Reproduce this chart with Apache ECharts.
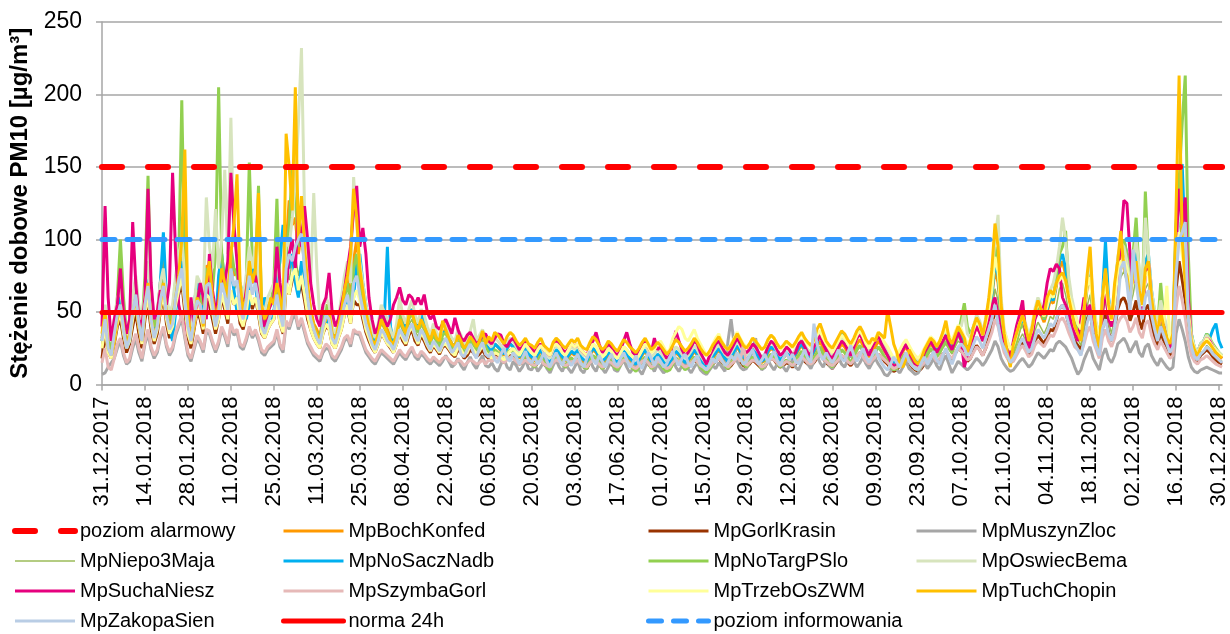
<!DOCTYPE html>
<html>
<head>
<meta charset="utf-8">
<script src="https://cdn.jsdelivr.net/npm/echarts@6/dist/echarts.min.js"></script>
<style>html,body{margin:0;padding:0;background:#fff}#c{width:1230px;height:634px}</style>
</head>
<body>
<div id="c"></div>
<script>
// Thresholds
const ALARM = 150, INFO = 100, NORM = 50;
const yTicks = [0, 50, 100, 150, 200, 250];
// Categories: daily from 31.12.2017 to 31.12.2018
const startDate = [2017, 11, 31];
const nDays = 366;
const categories = [];
for (let i = 0; i < nDays; i++) {
  const d = new Date(Date.UTC(startDate[0], startDate[1], startDate[2] + i));
  const dd = String(d.getUTCDate()).padStart(2, '0');
  const mm = String(d.getUTCMonth() + 1).padStart(2, '0');
  categories.push(dd + '.' + mm + '.' + d.getUTCFullYear());
}

const MpBochKonfed = [
32,50,28,22,38,52,62,42,28,35,58,72,48,32,
62,80,52,38,48,70,88,58,42,50,72,88,100,72,
42,32,52,68,62,48,82,80,62,45,65,85,72,58,
90,75,80,62,55,68,88,72,85,68,48,42,52,58,
60,80,62,50,95,127,110,115,90,105,85,65,52,42,
38,32,48,55,52,38,32,42,52,68,75,58,85,100,
82,68,52,42,33,28,38,48,43,38,33,28,38,50,
43,38,48,52,43,38,48,43,36,30,38,33,28,36,
38,33,28,26,34,30,25,28,33,31,26,30,34,28,
24,22,28,26,23,20,25,28,26,22,18,21,24,20,
18,16,20,23,18,16,14,20,23,21,18,16,19,22,
20,23,18,16,15,20,24,22,18,15,17,21,19,16,
14,18,22,20,17,15,13,16,20,23,19,15,17,20,
18,15,12,14,18,22,20,17,14,16,19,23,20,16,
13,11,14,18,21,24,20,17,15,18,22,26,22,18,
16,19,23,21,18,15,17,22,25,23,19,16,18,21,
19,17,20,24,27,23,20,18,22,26,30,25,21,18,
16,20,24,28,26,22,19,23,28,31,27,22,19,23,
26,30,27,23,20,16,13,15,19,23,26,22,18,15,
13,16,20,24,28,26,22,25,30,33,29,25,31,36,
33,28,23,26,34,40,36,30,38,48,60,80,70,48,
33,26,20,23,30,38,43,36,28,33,46,52,48,43,
50,58,56,68,80,85,76,62,52,43,38,33,48,66,
76,52,38,28,56,72,52,43,56,80,90,95,85,66,
76,90,66,56,80,85,62,48,38,52,43,36,28,33,
100,130,110,90,56,33,23,20,26,28,33,30,26,23,
20,18];

const MpGorlKrasin = [
18,35,22,18,28,40,45,32,22,28,40,50,35,25,
45,55,38,28,35,50,60,42,32,38,55,62,70,50,
32,25,38,50,45,35,58,55,45,35,45,60,52,42,
65,55,58,42,38,48,62,52,60,48,35,32,38,42,
45,58,42,35,68,62,72,75,62,70,58,45,38,32,
28,25,35,40,38,28,25,32,38,48,52,42,58,55,
55,45,36,30,25,22,28,35,32,28,25,22,28,36,
30,27,34,38,30,27,34,30,25,22,27,24,21,26,
27,24,21,19,24,22,18,20,24,22,19,21,24,20,
18,16,20,19,17,15,18,20,19,16,14,15,18,15,
14,12,15,17,14,12,11,15,17,16,14,12,14,16,
15,17,14,12,11,15,18,16,14,11,13,16,14,12,
11,14,17,15,13,12,10,12,15,17,14,12,13,15,
14,12,10,11,14,17,15,13,11,12,14,17,15,12,
10,9,11,14,16,18,15,13,11,13,16,19,16,13,
12,14,17,15,13,11,12,16,18,17,14,12,13,15,
14,12,14,17,19,16,14,13,15,18,21,18,15,13,
11,14,17,20,18,15,13,16,20,22,19,15,13,16,
18,21,19,16,14,11,9,10,13,16,18,15,12,10,
9,11,14,17,20,18,15,17,21,23,20,17,21,25,
23,20,16,18,23,27,24,20,25,32,40,52,45,32,
24,19,15,17,21,26,29,25,20,23,30,34,31,28,
33,38,37,44,52,55,50,42,36,30,27,24,33,45,
50,36,27,20,38,48,36,30,38,52,58,60,55,44,
50,58,44,38,52,55,42,33,27,36,30,26,20,23,
65,85,72,58,38,24,18,16,20,22,24,22,19,17,
15,14];

const MpMuszynZloc = [
7,8,12,15,18,25,30,20,14,16,25,32,22,16,
28,35,24,18,22,32,38,26,20,24,34,40,45,32,
20,16,24,32,28,22,36,35,28,22,28,38,33,26,
40,34,36,26,24,30,38,32,36,30,22,20,24,26,
28,36,26,22,42,38,45,48,38,44,36,28,24,20,
18,16,22,25,24,18,16,20,24,30,32,26,36,35,
34,28,22,19,16,14,18,22,20,18,16,14,18,22,
19,17,21,24,19,17,21,19,16,14,17,15,13,16,
20,16,12,14,18,13,10,15,19,14,11,16,20,13,
12,15,11,9,14,18,12,10,16,13,9,12,17,11,
10,14,9,12,16,11,8,13,17,12,9,14,11,8,
12,16,10,8,13,17,12,9,15,11,8,12,16,10,
9,13,17,12,8,11,15,10,7,12,16,13,9,14,
11,8,10,14,18,12,9,13,16,11,8,12,15,10,
8,7,10,13,11,15,12,9,30,45,28,16,12,10,
11,15,25,32,16,10,12,17,13,10,14,18,12,9,
13,17,12,10,15,19,14,11,16,20,15,12,17,13,
11,15,19,14,12,17,21,16,12,15,19,14,11,15,
18,14,11,7,6,9,13,10,8,12,16,11,9,7,
8,12,15,11,14,18,13,10,16,20,14,8,12,16,
14,12,10,12,15,18,16,13,16,20,24,30,26,18,
14,11,9,10,13,16,18,15,12,14,18,22,20,18,
21,24,23,28,30,28,26,22,18,12,7,10,17,22,
26,18,14,10,20,25,18,15,20,28,30,32,28,22,
26,30,22,19,26,28,20,16,13,18,15,12,10,12,
35,45,38,30,19,12,9,8,10,11,12,11,10,9,
8,8];

const MpNiepo3Maja = [
28,42,25,22,35,48,58,40,28,35,52,62,45,32,
55,70,48,35,42,60,70,50,40,45,62,75,88,62,
40,32,45,60,56,45,70,68,58,45,52,72,65,52,
78,65,70,52,48,60,75,62,72,58,42,38,45,50,
52,68,50,42,78,72,85,90,75,85,70,55,45,38,
34,30,42,50,45,34,30,38,45,56,62,50,70,80,
68,56,45,38,30,26,33,42,38,34,30,26,33,42,
37,33,41,45,37,33,41,37,31,27,33,29,25,31,
32,28,25,23,29,26,22,24,28,27,23,25,29,24,
21,19,24,22,20,17,21,24,22,19,16,18,21,17,
16,14,17,20,16,14,12,17,20,18,16,14,17,19,
17,20,16,14,13,17,20,19,16,13,15,18,17,14,
12,15,19,17,15,13,11,14,17,19,16,13,15,17,
15,13,11,12,15,19,17,15,12,14,16,19,17,14,
12,10,12,15,18,20,17,15,13,15,18,22,18,15,
13,16,19,18,15,13,14,18,21,19,16,13,15,17,
16,14,17,20,22,19,17,15,18,22,25,21,18,15,
14,17,20,23,22,19,16,20,23,26,22,19,16,19,
22,25,22,19,17,14,11,13,16,19,22,19,15,13,
12,14,17,20,23,22,19,21,25,28,24,21,26,30,
28,24,20,22,28,33,30,25,31,39,48,66,58,39,
28,22,17,20,25,31,35,30,23,27,37,43,39,35,
40,47,45,54,66,70,62,50,43,35,31,27,39,54,
62,43,31,23,47,58,43,35,47,66,74,78,70,54,
62,74,54,47,66,70,50,39,31,43,35,30,23,27,
85,115,95,74,47,27,19,17,22,23,27,25,22,19,
17,16];

const MpNoSaczNadb = [
30,45,25,20,35,50,60,40,25,30,55,70,45,30,
60,75,50,35,45,70,105,60,40,30,50,65,85,70,
40,35,55,70,60,45,80,65,50,40,75,90,70,55,
80,65,50,70,60,45,55,85,70,50,40,60,55,45,
50,70,85,110,95,80,90,70,60,85,75,55,45,40,
35,30,45,40,50,35,30,40,55,65,50,45,60,85,
90,70,55,45,35,30,40,50,45,95,40,30,35,45,
42,38,48,52,44,38,48,42,36,30,38,33,28,36,
36,32,28,26,33,30,25,28,32,30,26,30,33,28,
25,23,28,26,24,21,25,28,26,23,19,22,25,21,
19,17,21,24,19,17,15,21,24,22,19,17,20,23,
21,24,19,17,16,21,25,23,19,16,18,22,20,17,
15,19,23,21,18,16,14,17,21,24,20,16,18,21,
19,16,13,15,19,23,21,18,15,17,20,24,21,17,
14,11,15,19,22,25,21,18,16,19,23,27,23,19,
17,20,24,22,19,16,18,23,26,24,20,17,19,22,
20,18,21,25,28,24,21,19,23,28,36,30,24,20,
18,22,26,36,34,28,24,30,36,38,34,28,24,28,
30,34,30,26,22,18,15,17,21,25,28,24,20,17,
15,18,22,26,30,28,24,27,32,35,31,27,33,38,
35,30,25,28,36,42,38,32,40,50,62,85,75,50,
35,28,22,25,32,40,45,38,30,35,48,55,50,45,
52,60,58,70,85,90,80,65,55,45,40,35,50,70,
80,55,40,30,60,99,60,45,60,85,95,100,90,70,
80,95,70,60,85,90,65,50,40,55,45,38,30,35,
110,140,152,95,60,35,25,22,28,30,35,32,38,42,
30,25];

const MpNoTargPSlo = [
30,45,30,25,40,60,100,60,35,40,55,65,50,40,
75,144,60,40,45,60,75,55,45,50,70,85,196,80,
45,35,50,65,60,55,80,75,65,90,205,90,70,55,
95,80,75,60,55,70,153,85,80,137,55,45,50,55,
70,128,60,50,90,110,150,130,95,100,85,65,50,40,
35,30,45,55,50,35,30,40,50,60,70,55,80,90,
70,60,48,40,30,26,35,45,40,35,30,26,32,48,
40,35,45,50,40,36,44,40,34,28,36,30,26,34,
36,30,26,24,30,27,22,25,30,28,24,27,31,26,
22,18,24,22,20,16,20,24,22,18,14,16,20,17,
14,12,16,20,15,12,10,16,20,18,14,12,15,18,
16,20,14,12,11,16,20,18,14,11,13,17,15,12,
10,14,18,16,13,11,9,12,16,19,15,11,13,16,
14,11,9,10,14,18,16,13,10,12,15,19,16,12,
10,8,11,14,17,20,16,13,11,14,18,22,18,14,
12,15,19,17,14,11,13,18,21,19,15,12,14,17,
15,13,16,20,23,19,16,14,18,22,26,21,17,14,
12,16,20,24,22,18,15,19,24,27,23,18,15,19,
22,26,23,19,16,12,10,11,15,19,22,18,14,11,
10,13,17,21,25,23,19,22,27,30,26,22,28,34,
45,56,40,35,40,46,40,34,42,55,70,95,80,50,
32,26,20,24,30,38,42,36,28,34,46,55,50,45,
55,62,60,75,90,95,106,70,55,45,38,32,48,68,
80,55,38,28,60,75,52,45,60,85,95,100,90,70,
90,115,75,60,133,85,60,50,40,70,45,38,30,35,
105,140,180,213,90,35,25,22,28,30,35,32,28,25,
22,20];

const MpOswiecBema = [
40,55,35,30,45,60,65,50,35,45,60,75,55,40,
65,85,55,45,50,70,80,60,50,55,75,90,100,75,
50,40,55,75,70,60,129,95,80,121,80,100,148,90,
184,95,100,70,60,75,95,80,95,75,55,50,60,65,
70,90,65,55,100,95,115,140,180,232,120,95,70,132,
80,45,50,60,55,40,35,45,60,75,85,70,143,110,
85,70,55,45,38,32,42,55,50,45,38,32,42,60,
48,42,52,58,48,42,52,48,40,34,42,36,32,40,
42,36,32,30,38,34,28,32,37,45,30,34,38,32,
28,26,32,30,27,24,29,32,30,26,22,25,28,24,
22,20,24,27,22,20,18,24,27,25,22,20,23,26,
24,27,22,20,19,24,28,26,22,19,21,25,23,20,
18,22,26,24,21,19,17,20,24,27,23,19,21,24,
22,19,16,18,22,26,24,21,18,20,23,27,24,20,
17,14,18,22,25,28,24,21,19,22,26,30,26,22,
20,23,27,25,22,19,21,26,29,27,23,20,22,25,
23,21,24,28,31,27,24,22,26,30,34,29,25,22,
20,24,28,32,30,26,23,27,32,35,31,26,23,27,
30,34,31,27,24,20,17,19,23,27,30,26,22,19,
17,20,24,28,32,30,26,29,34,37,33,29,35,40,
40,50,35,32,40,48,44,36,46,58,75,100,117,60,
38,30,24,28,36,44,50,42,34,40,52,60,55,50,
58,65,70,80,95,115,100,75,60,50,42,38,55,72,
85,60,42,32,62,78,58,48,62,88,98,95,85,70,
85,100,80,62,115,90,65,52,42,58,48,40,32,36,
90,120,110,100,55,34,26,22,28,30,34,31,27,24,
22,20];

const MpSuchaNiesz = [
40,123,60,30,45,55,80,50,35,45,112,70,45,40,
60,135,70,45,50,65,60,55,70,146,90,55,45,40,
35,60,40,55,70,60,45,90,65,50,60,75,70,85,
146,110,85,60,50,65,80,70,75,60,45,40,50,55,
60,95,70,55,65,90,100,80,122,95,123,100,70,55,
45,40,55,60,77,50,40,45,55,65,80,95,120,137,
95,108,90,60,45,35,40,50,45,40,45,55,60,67,
58,55,62,60,55,60,55,62,50,45,48,40,38,42,
45,40,35,46,38,32,30,34,36,32,28,30,34,35,
30,28,32,35,34,28,26,30,32,28,24,26,30,27,
25,22,26,28,24,22,20,26,31,28,24,22,25,28,
26,28,24,22,20,26,30,36,28,22,24,28,26,22,
20,24,30,36,28,22,20,24,28,30,26,22,32,24,
26,22,18,20,28,37,30,24,20,22,26,30,28,22,
18,14,20,24,28,30,26,22,20,24,28,32,28,24,
22,24,28,26,22,18,20,26,30,28,24,20,22,26,
24,20,22,28,30,26,22,20,26,30,34,28,24,20,
18,22,26,30,28,24,20,26,32,35,30,24,20,26,
30,34,28,24,20,16,12,14,20,24,28,22,18,14,
12,16,22,26,30,26,22,26,30,34,28,24,30,36,
30,12,20,26,34,40,36,30,38,45,55,60,48,35,
30,25,18,30,40,48,58,35,25,32,45,50,48,55,
70,80,78,83,80,60,55,50,40,35,30,45,60,50,
55,45,35,25,50,65,45,40,55,75,100,127,125,90,
70,80,60,50,75,85,55,45,35,50,40,30,25,30,
95,135,110,129,60,30,22,20,26,28,32,30,26,22,
20,18];

const MpSzymbaGorl = [
15,25,12,10,18,28,32,22,15,18,28,35,25,18,
30,38,26,20,24,34,40,28,22,26,36,42,48,34,
22,18,26,34,30,24,38,37,30,24,30,40,35,28,
42,36,38,28,26,32,40,34,38,32,24,22,26,28,
30,38,28,24,44,40,48,50,40,46,38,30,26,22,
20,18,24,28,26,20,18,22,26,32,34,28,38,36,
36,30,24,21,18,16,20,24,22,20,18,16,20,24,
21,19,23,26,21,19,23,21,18,16,19,17,15,18,
19,17,15,14,17,16,13,15,17,16,14,15,17,14,
17,16,19,18,17,15,17,19,18,16,14,15,17,15,
14,13,15,17,14,13,12,15,17,16,14,13,14,16,
15,17,14,13,12,15,17,16,14,12,13,16,15,13,
12,14,17,16,14,12,11,13,16,17,15,12,13,16,
15,13,11,12,15,17,16,14,12,13,15,17,16,13,
12,10,12,15,16,18,16,14,12,14,16,19,16,28,
13,15,17,16,14,12,13,16,18,17,15,13,14,16,
15,13,15,17,19,17,15,14,16,19,21,18,16,14,
13,15,17,20,19,16,14,17,20,22,19,16,14,17,
19,21,19,17,15,13,11,12,14,17,19,16,13,12,
11,13,15,17,20,19,16,18,21,23,20,18,22,25,
23,20,17,18,22,26,24,20,25,30,36,45,40,30,
22,18,15,16,20,24,27,23,19,21,27,30,28,26,
30,34,33,38,44,46,42,36,31,26,24,21,28,36,
40,30,24,18,32,38,30,26,32,42,46,48,44,36,
40,46,36,32,42,44,34,28,24,30,26,22,18,20,
52,68,58,46,30,20,16,14,17,18,20,18,16,14,
13,12];

const MpTrzebOsZWM = [
25,40,22,18,30,42,50,35,25,30,45,55,40,28,
50,60,42,30,38,52,62,45,35,40,55,65,75,55,
35,28,40,52,48,38,62,60,50,38,45,62,55,45,
65,55,60,45,40,50,65,55,60,50,36,32,38,42,
45,58,42,36,70,62,75,80,65,75,62,48,38,32,
28,25,35,42,38,28,25,32,38,48,55,42,60,65,
58,48,38,32,26,22,28,36,32,28,26,22,28,36,
32,28,36,40,33,28,36,32,27,23,28,25,22,27,
28,25,22,20,26,24,20,22,27,24,21,23,27,22,
20,18,22,21,19,17,20,23,25,22,20,24,28,25,
22,20,24,27,24,22,20,26,28,26,22,20,24,28,
26,28,24,22,20,24,28,26,22,19,21,25,23,20,
18,22,26,24,21,19,17,20,24,28,26,22,24,28,
30,26,22,24,32,36,40,38,32,30,34,38,32,28,
24,20,22,28,32,35,30,26,24,28,32,36,32,28,
26,28,32,30,27,24,26,30,34,32,28,24,26,29,
27,25,28,32,35,31,28,26,30,34,37,32,28,25,
22,26,30,34,32,28,25,29,34,37,33,28,25,29,
32,36,33,29,26,22,18,20,24,28,31,27,23,20,
18,21,25,29,33,31,27,30,35,38,34,30,36,41,
38,33,28,31,38,44,40,34,42,52,65,88,78,52,
37,30,24,27,34,42,47,40,32,37,50,56,52,47,
54,62,60,70,72,75,70,62,55,48,42,38,52,68,
74,52,40,30,58,70,52,44,56,78,85,86,80,64,
72,82,62,54,75,78,58,45,36,50,42,68,30,34,
85,105,90,75,50,32,24,21,26,28,32,29,26,23,
21,19];

const MpTuchChopin = [
35,50,25,20,30,45,55,40,25,35,50,60,40,30,
55,70,45,35,40,55,70,50,40,45,60,75,100,162,
50,30,40,60,55,40,70,85,60,45,55,80,70,60,
90,110,145,70,50,60,85,70,80,132,55,45,50,60,
55,70,60,45,173,150,120,205,100,130,95,70,50,40,
35,30,40,45,50,35,30,40,50,65,75,90,135,115,
80,65,50,40,30,28,35,45,40,35,30,28,35,45,
40,35,48,50,42,38,45,40,35,30,38,32,30,44,
38,32,28,26,34,30,25,28,33,30,26,30,37,28,
33,30,36,34,31,28,33,36,34,30,27,29,32,28,
27,25,29,32,27,25,23,29,32,30,27,25,28,31,
29,32,27,25,24,29,33,31,27,24,26,30,28,25,
23,27,31,29,26,24,22,25,29,32,28,24,26,29,
27,24,21,23,27,31,29,26,23,25,28,32,29,25,
22,20,23,27,30,33,29,26,24,27,31,35,31,27,
25,28,32,30,27,24,26,31,34,32,28,25,27,30,
28,26,29,33,36,32,29,27,31,38,42,36,30,27,
25,29,33,37,35,31,28,32,37,40,36,31,28,32,
30,36,34,32,51,40,28,22,14,12,18,24,20,16,
14,18,24,28,32,30,26,30,36,44,32,28,34,40,
36,32,22,30,40,46,42,34,45,60,80,111,95,55,
35,22,12,28,35,42,48,40,30,38,50,58,52,48,
60,65,62,70,75,77,72,60,50,40,35,30,50,75,
95,55,35,25,60,80,55,45,70,85,106,80,75,60,
75,85,65,55,80,85,60,45,35,50,40,32,28,35,
120,213,100,70,45,30,24,20,25,28,30,28,25,22,
20,18];

const MpZakopaSien = [
30,45,25,20,35,48,55,38,25,32,50,62,42,30,
55,68,45,32,40,58,68,48,38,42,60,72,80,58,
40,30,45,58,55,42,68,70,55,40,50,70,62,50,
80,68,72,52,45,58,75,62,70,58,40,35,42,48,
50,62,48,40,80,90,85,95,100,104,80,60,45,38,
32,28,40,48,45,32,28,36,45,55,62,48,70,75,
62,52,42,35,28,24,30,38,35,30,28,24,30,38,
34,30,38,42,34,30,38,34,28,24,30,27,23,28,
32,27,22,25,29,21,19,24,28,22,18,25,29,21,
19,23,17,15,21,25,18,16,22,19,14,18,23,17,
15,19,14,17,22,16,12,18,22,17,13,19,16,13,
17,21,15,12,18,23,17,14,20,16,12,17,21,15,
13,18,22,17,12,15,20,14,11,17,22,18,13,19,
16,12,14,19,23,17,13,18,21,15,12,17,20,14,
12,10,14,18,15,21,17,13,15,20,17,22,18,14,
16,20,24,18,14,17,21,15,19,23,17,13,18,22,
17,21,16,14,19,24,18,15,42,28,20,17,22,18,
15,19,24,18,16,22,27,20,16,20,25,19,15,20,
24,19,15,12,10,14,19,15,12,17,22,16,13,11,
10,15,19,14,18,23,17,14,20,25,19,14,20,26,
28,25,20,22,28,33,30,25,32,38,45,55,42,30,
25,20,15,18,22,28,32,27,22,25,32,38,35,32,
36,42,40,45,52,55,50,42,35,28,24,20,30,42,
50,35,26,20,38,45,35,30,40,55,80,85,70,50,
93,70,55,45,60,65,48,38,30,40,34,28,22,26,
75,100,105,112,45,26,19,17,21,23,26,24,21,19,
17,15];

const stations = [
  ['MpBochKonfed', MpBochKonfed, '#FF9900', 3],
  ['MpGorlKrasin', MpGorlKrasin, '#993300', 3],
  ['MpMuszynZloc', MpMuszynZloc, '#A6A6A6', 3],
  ['MpNiepo3Maja', MpNiepo3Maja, '#9BBB59', 1.5],
  ['MpNoSaczNadb', MpNoSaczNadb, '#00B0F0', 3],
  ['MpNoTargPSlo', MpNoTargPSlo, '#92D050', 3],
  ['MpOswiecBema', MpOswiecBema, '#D7E4BD', 3],
  ['MpSuchaNiesz', MpSuchaNiesz, '#E6007E', 3],
  ['MpSzymbaGorl', MpSzymbaGorl, '#E6B9B8', 3],
  ['MpTrzebOsZWM', MpTrzebOsZWM, '#FFFF99', 3],
  ['MpTuchChopin', MpTuchChopin, '#FFC000', 3],
  ['MpZakopaSien', MpZakopaSien, '#B9CDE5', 3]
];

const FONT = '"Liberation Sans", Arial, sans-serif';
const series = [];
stations.forEach(s => {
  series.push({
    name: s[0], type: 'line', data: s[1], symbol: 'none', showSymbol: false,
    lineStyle: { color: s[2], width: s[3] }, itemStyle: { color: s[2] },
    z: 2, silent: true
  });
});
function threshold(name, value, color, width, dash) {
  return {
    name: name, type: 'line', data: [], symbol: 'none', z: 5, silent: true,
    lineStyle: { color: color, width: width, type: dash, cap: 'round' },
    itemStyle: { color: color },
    markLine: {
      silent: true, symbol: ['none', 'none'], label: { show: false },
      lineStyle: { color: color, width: width, type: dash, cap: 'round' },
      emphasis: { disabled: true },
      data: [{ yAxis: value }]
    }
  };
}
series.unshift(threshold('poziom alarmowy', ALARM, '#FF0000', 6, [20, 26]));
series.push(threshold('norma 24h', NORM, '#FF0000', 5, 'solid'));
series.push(threshold('poziom informowania', INFO, '#3399FF', 5, [13, 12]));

function legendCol(left, names) {
  return {
    orient: 'vertical', left: left, top: 521, height: 120, padding: 0,
    itemGap: 10, itemWidth: 60, itemHeight: 14,
    selectedMode: false, data: names,
    itemStyle: { opacity: 0 },
    lineStyle: { width: 'inherit' },
    textStyle: { fontFamily: FONT, fontSize: 20, lineHeight: 20, color: '#000' }
  };
}

const chart = echarts.init(document.getElementById('c'), null, { renderer: 'canvas' });
chart.setOption({
  animation: false,
  backgroundColor: '#fff',
  grid: { left: 102, top: 22, right: 2, bottom: 249.5, containLabel: false },
  xAxis: {
    type: 'category', data: categories, boundaryGap: false,
    axisLine: { lineStyle: { color: '#A6A6A6', width: 1.5 } },
    axisTick: { show: true, interval: 13, length: 6, lineStyle: { color: '#A6A6A6', width: 1.5 } },
    axisLabel: { interval: 13, rotate: 90, margin: 12, fontFamily: FONT, fontSize: 22, color: '#000' },
    splitLine: { show: false }
  },
  yAxis: {
    type: 'value', min: yTicks[0], max: yTicks[yTicks.length - 1], interval: 50,
    name: 'Stężenie dobowe PM10 [µg/m³]', nameLocation: 'middle', nameGap: 68,
    nameTextStyle: { fontFamily: FONT, fontSize: 24, fontWeight: 'bold', color: '#000' },
    axisLine: { show: true, lineStyle: { color: '#A6A6A6', width: 1.5 } },
    axisTick: { show: true, length: 6, lineStyle: { color: '#A6A6A6', width: 1.5 } },
    axisLabel: { margin: 20, fontFamily: FONT, fontSize: 23, color: '#000' },
    splitLine: { show: true, lineStyle: { color: '#A6A6A6', width: 1.5 } }
  },
  legend: [
    legendCol(12, ['poziom alarmowy', 'MpNiepo3Maja', 'MpSuchaNiesz', 'MpZakopaSien']),
    legendCol(281, ['MpBochKonfed', 'MpNoSaczNadb', 'MpSzymbaGorl', 'norma 24h']),
    legendCol(646, ['MpGorlKrasin', 'MpNoTargPSlo', 'MpTrzebOsZWM', 'poziom informowania']),
    legendCol(915, ['MpMuszynZloc', 'MpOswiecBema', 'MpTuchChopin'])
  ],
  series: series
});
</script>
</body>
</html>
